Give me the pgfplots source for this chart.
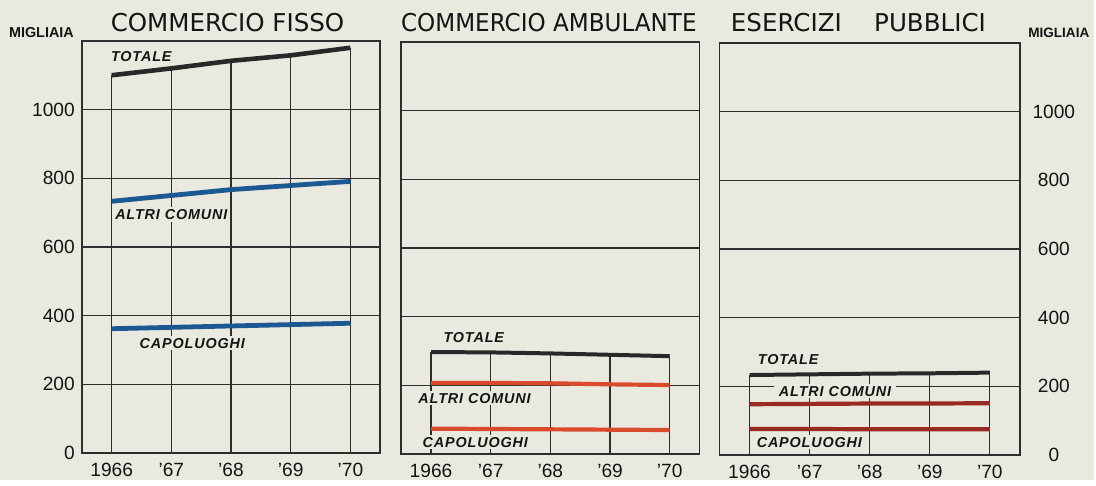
\documentclass[border=0pt]{standalone}
\usepackage{fontspec}
\setmainfont{Liberation Sans}
\newfontfamily\titlefont{DejaVu Sans}
\newfontfamily\labfont[LetterSpace=6]{Liberation Sans}
\usepackage{graphicx}
\usepackage{pgfplots}
\pgfplotsset{compat=1.18}

\definecolor{bgc}{RGB}{234,233,223}
\definecolor{gridc}{RGB}{45,45,45}
\definecolor{textc}{RGB}{20,20,20}
\definecolor{totc}{RGB}{40,40,40}
\definecolor{bluec}{RGB}{28,88,145}
\definecolor{orangec}{RGB}{218,74,44}
\definecolor{darkredc}{RGB}{152,42,34}

\pgfplotsset{
  panel/.style={
    scale only axis, anchor=south west,
    width=149.5pt, height=206.5pt,
    xmin=1965.5, xmax=1970.5, ymin=0, ymax=1200,
    xtick={1966,1967,1968,1969,1970},
    xticklabels={1966,{'67},{'68},{'69},{'70}},
    ytick={0,200,400,600,800,1000},
    ymajorgrids,
    major grid style={line width=0.55pt, color=gridc},
    axis line style={line width=0.9pt, color=gridc},
    major tick length=0pt,
    /pgf/number format/assume math mode=true,
    /pgf/number format/1000 sep={},
    tick label style={font=\fontsize{9.6}{11}\selectfont, text=textc},
    xticklabel style={yshift=-1.5pt},
    axis background/.style={fill=bgc},
    clip=false
  },
  vlines/.style={ycomb, no marks, gridc, line width=0.55pt}
}
\tikzset{lab/.style={font=\labfont\bfseries\itshape\fontsize{7.2}{9}\selectfont, text=textc, fill=bgc, inner sep=1pt}}

\begin{document}
\begin{tikzpicture}
\fill[bgc] (0,0) rectangle (548pt,-240.5pt);

% titles
\node[anchor=base, font=\titlefont\fontsize{12.3}{14}\selectfont, text=textc] at (114pt,-16pt) {COMMERCIO FISSO};
\node[anchor=base, font=\titlefont\fontsize{12.3}{14}\selectfont, text=textc] at (275pt,-16pt) {\scalebox{0.94}[1]{COMMERCIO AMBULANTE}};
\node[anchor=base, font=\titlefont\fontsize{12.3}{14}\selectfont, text=textc] at (394pt,-16pt) {ESERCIZI};
\node[anchor=base, font=\titlefont\fontsize{12.3}{14}\selectfont, text=textc] at (466pt,-16pt) {PUBBLICI};
\node[anchor=base, font=\bfseries\fontsize{7.2}{9}\selectfont, text=textc] at (20.75pt,-19pt) {MIGLIAIA};
\node[anchor=base, font=\bfseries\fontsize{6.8}{9}\selectfont, text=textc] at (530.5pt,-19pt) {MIGLIAIA};

% commercio fisso
\begin{axis}[panel, at={(41pt,-227pt)}]
  \addplot[vlines] coordinates {(1966,1100) (1967,1120) (1968,1142) (1969,1158) (1970,1180)};
  \node[lab, anchor=base west] at (axis cs:1965.95,1140) {TOTALE};
  \node[lab, anchor=base west] at (axis cs:1966.02,680) {ALTRI COMUNI};
  \node[lab, anchor=base west] at (axis cs:1966.43,305) {CAPOLUOGHI};
  \addplot[totc, line width=2.3pt] coordinates {(1966,1100) (1967,1120) (1968,1142) (1969,1158) (1970,1180)};
  \addplot[bluec, line width=2.4pt] coordinates {(1966,733) (1967,750) (1968,767) (1969,779) (1970,791)};
  \addplot[bluec, line width=2.4pt] coordinates {(1966,362) (1967,366) (1968,370) (1969,374) (1970,378)};
\end{axis}

% commercio ambulante
\begin{axis}[panel, at={(201pt,-227.5pt)}, yticklabels={}]
  \addplot[vlines] coordinates {(1966,297) (1967,296) (1968,293) (1969,289) (1970,285)};
  \node[lab, anchor=base west] at (axis cs:1966.17,326) {TOTALE};
  \node[lab, anchor=base west] at (axis cs:1965.75,148) {ALTRI COMUNI};
  \node[lab, anchor=base west] at (axis cs:1965.82,20) {CAPOLUOGHI};
  \addplot[totc, line width=2pt] coordinates {(1966,297) (1967,296) (1968,293) (1969,289) (1970,285)};
  \addplot[orangec, line width=2.1pt] coordinates {(1966,207) (1967,207) (1968,206) (1969,203) (1970,201)};
  \addplot[orangec, line width=2.1pt] coordinates {(1966,74) (1967,73) (1968,72) (1969,71) (1970,70)};
\end{axis}

% esercizi pubblici
\begin{axis}[panel, at={(360.5pt,-228pt)}, width=150.5pt, yticklabel pos=right,
  yticklabel style={anchor=center, xshift=17pt}]
  \addplot[vlines] coordinates {(1966,233) (1967,235) (1968,237) (1969,238) (1970,240)};
  \node[lab, anchor=base west] at (axis cs:1966.1,264) {TOTALE};
  \node[lab, anchor=base west, inner xsep=2.5pt] at (axis cs:1966.4,171) {ALTRI COMUNI};
  \node[lab, anchor=base west] at (axis cs:1966.08,23) {CAPOLUOGHI};
  \addplot[totc, line width=2pt] coordinates {(1966,233) (1967,235) (1968,237) (1969,238) (1970,240)};
  \addplot[darkredc, line width=2.1pt] coordinates {(1966,148) (1967,149) (1968,150) (1969,150) (1970,151)};
  \addplot[darkredc, line width=2.1pt] coordinates {(1966,76) (1967,76) (1968,75) (1969,75) (1970,75)};
\end{axis}
\end{tikzpicture}
\end{document}
